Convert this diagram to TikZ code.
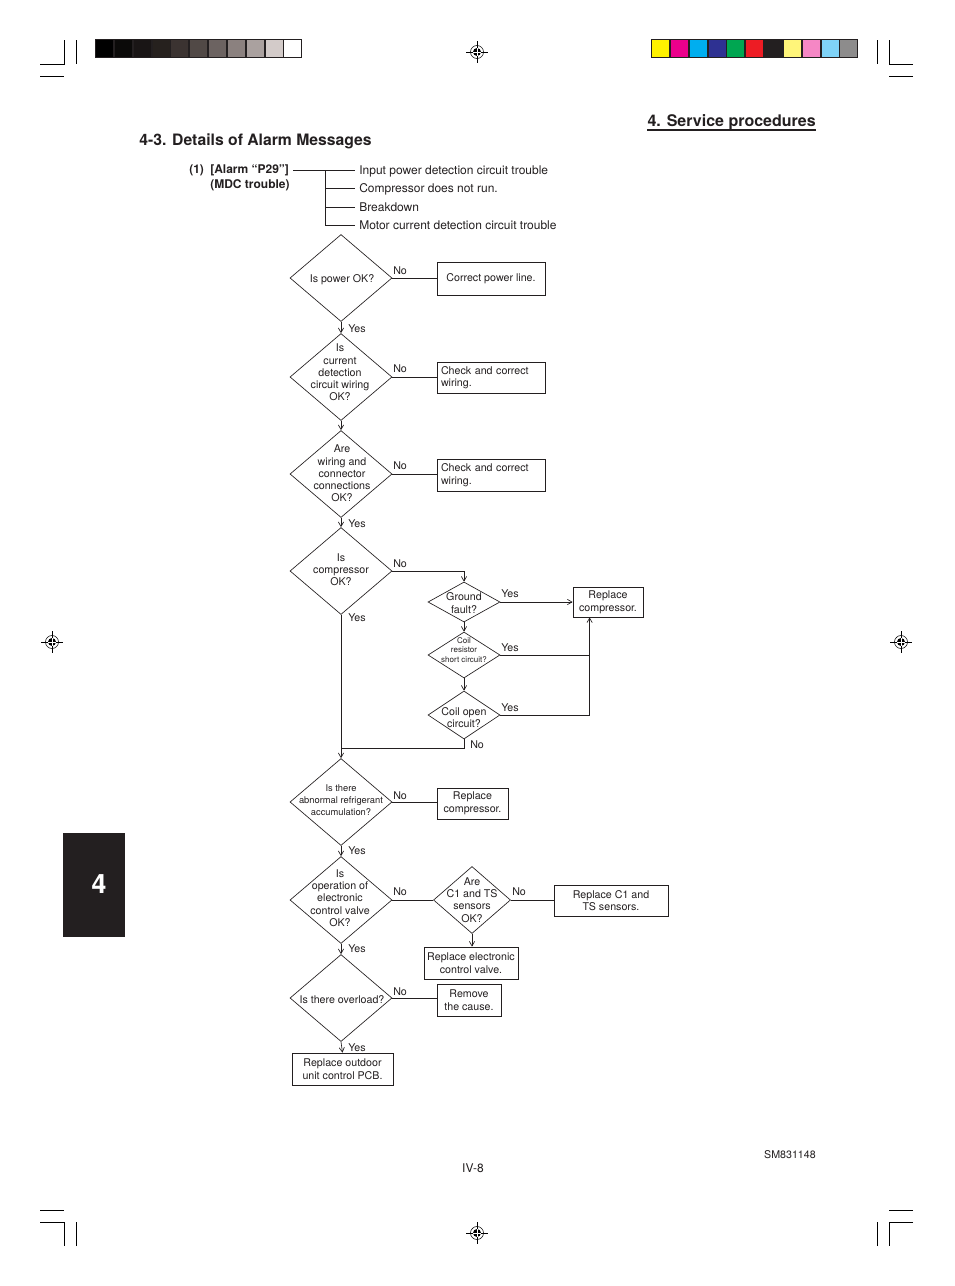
\documentclass[tikz,border=0pt]{standalone}
\usepackage{fontspec}
\setmainfont{TeX Gyre Heros}
\usetikzlibrary{arrows,shapes.geometric}

\definecolor{ink}{HTML}{231F20}
\definecolor{g0}{HTML}{000000}
\definecolor{g1}{HTML}{0B0A09}
\definecolor{g2}{HTML}{191515}
\definecolor{g3}{HTML}{26211E}
\definecolor{g4}{HTML}{3B3331}
\definecolor{g5}{HTML}{514946}
\definecolor{g6}{HTML}{6C6361}
\definecolor{g7}{HTML}{8B817F}
\definecolor{g8}{HTML}{AAA19F}
\definecolor{g9}{HTML}{D3CBC9}
\definecolor{g10}{HTML}{FFFFFF}
\definecolor{c0}{HTML}{FFF200}
\definecolor{c1}{HTML}{EC008C}
\definecolor{c2}{HTML}{00AEEF}
\definecolor{c3}{HTML}{2E3192}
\definecolor{c4}{HTML}{00A651}
\definecolor{c5}{HTML}{ED1C24}
\definecolor{c6}{HTML}{231F20}
\definecolor{c7}{HTML}{FFF57A}
\definecolor{c8}{HTML}{F587C5}
\definecolor{c9}{HTML}{7FD3F7}
\definecolor{c10}{HTML}{8D8C8C}

\begin{document}
\begin{tikzpicture}[x=0.75pt,y=-0.75pt,>=angle 60,
  flow/.style={draw=ink,line width=0.5pt},
  crop/.style={draw=black,line width=0.7pt},
  main node/.style={diamond,draw=ink,line width=0.5pt,inner sep=0pt,
    minimum width=76.5pt,minimum height=65.25pt},
  small node/.style={main node,minimum width=54pt},
  box node/.style={rectangle,draw=ink,line width=0.6pt,inner sep=0pt,text=ink,
    align=center,font=\fontsize{8}{9.4}\selectfont},
  left box/.style={box node,align=left,text width=75pt,inner xsep=3pt,
    minimum height=23.25pt},
  q text/.style={align=center,inner sep=0pt,text=ink,font=\fontsize{8}{9.2}\selectfont},
  yn/.style={anchor=west,inner sep=0pt,text=ink,text height=5.8pt,text depth=0pt,
    yshift=-0.75pt,font=\fontsize{8}{9}\selectfont},
  sym/.style={anchor=west,inner xsep=3pt,inner ysep=0pt,text=ink,text height=6.5pt,
    text depth=0pt,font=\fontsize{9}{11}\selectfont}]

  \useasboundingbox (0,0) rectangle (954,1286);

  % crop marks
  \foreach \ox/\sx in {0/1,953/-1}
    \foreach \oy/\sy in {0/1,1286/-1} {
      \draw[crop] ({\ox+\sx*40},{\oy+\sy*64}) -- ({\ox+\sx*64},{\oy+\sy*64})
        -- ({\ox+\sx*64},{\oy+\sy*40});
      \draw[crop] ({\ox+\sx*76},{\oy+\sy*40}) -- ({\ox+\sx*76},{\oy+\sy*64});
      \draw[crop] ({\ox+\sx*40},{\oy+\sy*76}) -- ({\ox+\sx*64},{\oy+\sy*76});
    }

  % registration marks
  \foreach \p in {(477,52),(52,642),(901,642),(477,1233)} {
    \draw[black,line width=0.4pt] \p ++(-11,0) -- ++(22,0) \p ++(0,-11) -- ++(0,22);
    \draw[black,line width=0.4pt] \p circle[radius=6.5];
    \fill[black] \p circle[radius=4];
    \draw[white,line width=0.45pt] \p ++(-4,0) -- ++(8,0) \p ++(0,-4) -- ++(0,8);
  }

  % colour bars
  \fill[ink] (95,39) rectangle (302,58);
  \foreach \i in {0,...,10}
    \fill[g\i] ({96.2+\i*18.818},40.3) rectangle ({94.4+(\i+1)*18.818},56.7);
  \fill[ink] (651,39) rectangle (858,58);
  \foreach \i in {0,...,10}
    \fill[c\i] ({652.2+\i*18.818},40.3) rectangle ({650.4+(\i+1)*18.818},56.7);

  % chapter tab
  \fill[ink] (63,833) rectangle (125,937);
  \node[text=white,inner sep=0pt,font=\fontsize{20}{24}\selectfont\bfseries] (tab) at (99,884) {4};

  % headings
  \node[anchor=base east,inner sep=0pt,text=ink,font=\fontsize{12}{14}\selectfont\bfseries]
    (svc) at (816,126) {4. Service procedures};
  \draw[ink,line width=0.9pt] ([yshift=-3pt]svc.base west) -- ([yshift=-3pt]svc.base east);
  \node[anchor=base west,inner sep=0pt,text=ink,font=\fontsize{11.8}{14}\selectfont\bfseries]
    (title) at (139,145) {4-3. Details of Alarm Messages};

  % alarm and symptoms
  \node[sym,font=\fontsize{9}{11}\selectfont\bfseries] (num) at (185,169) {(1)};
  \node[sym,font=\fontsize{9}{11}\selectfont\bfseries] (alarm) at (206,169) {[Alarm “P29”]};
  \node[sym,font=\fontsize{9}{11}\selectfont\bfseries] (mdc) at (206,184) {(MDC trouble)};
  \node[sym] (input) at (355,170) {Input power detection circuit trouble};
  \node[sym] (norun) at (355,188) {Compressor does not run.};
  \node[sym] (brk) at (355,207) {Breakdown};
  \node[sym] (motor) at (355,225) {Motor current detection circuit trouble};
  \coordinate (fork) at (325,170);
  \draw[flow] (alarm.east |- input.west) -- (input.west);
  \draw[flow] (fork) |- (motor.west);
  \draw[flow] (fork |- norun.west) -- (norun.west);
  \draw[flow] (fork |- brk.west) -- (brk.west);

  % decisions
  \node[main node] (power) at (341,278) {};
  \node[q text] (power t) at (342,279.5) {Is power OK?};
  \node[main node] (detect) at (341,377) {};
  \node[q text] (detect t) at (340,372.5) {Is\\current\\detection\\circuit wiring\\OK?};
  \node[main node] (conn) at (341,474) {};
  \node[q text] (conn t) at (342,473.5) {Are\\wiring and\\connector\\connections\\OK?};
  \node[main node] (comp) at (341,571) {};
  \node[q text] (comp t) at (341,569.5) {Is\\compressor\\OK?};
  \node[small node,minimum height=30pt] (ground) at (464,602) {};
  \node[q text,font=\fontsize{8}{9.75}\selectfont] (ground t) at (464,603) {Ground\\fault?};
  \node[small node,minimum height=34.5pt] (short) at (464,655) {};
  \node[q text,font=\fontsize{6}{7.1}\selectfont] (short t) at (464,650) {Coil\\resistor\\short circuit?};
  \node[small node,minimum height=36pt] (open) at (464,715) {};
  \node[q text] (open t) at (464,717.5) {Coil open\\circuit?};
  \node[main node] (refrig) at (341,802) {};
  \node[q text,font=\fontsize{7}{9}\selectfont] (refrig t) at (341,800.5) {Is there\\abnormal refrigerant\\accumulation?};
  \node[main node] (valve) at (341,900) {};
  \node[q text] (valve t) at (340,898) {Is\\operation of\\electronic\\control valve\\OK?};
  \node[small node,minimum width=57.75pt,minimum height=50.25pt] (sensors) at (472,900) {};
  \node[q text] (sensors t) at (472,900) {Are\\C1 and TS\\sensors\\OK?};
  \node[main node] (load) at (341,998) {};
  \node[q text] (load t) at (342,999.5) {Is there overload?};

  % actions
  \node[box node,minimum width=81pt,minimum height=24.75pt] (powerfix) at (491,278.5) {Correct power line.};
  \node[left box] (detectfix) at (491,377.5) {Check and correct\\wiring.};
  \node[left box,minimum height=24pt] (connfix) at (491,475) {Check and correct\\wiring.};
  \node[box node,minimum width=52.5pt,minimum height=22.5pt] (compfix) at (608,602) {Replace\\compressor.};
  \node[box node,minimum width=53.25pt,minimum height=23.25pt] (refrigfix) at (472.5,803.5) {Replace\\compressor.};
  \node[box node,minimum width=85.5pt,minimum height=23.25pt] (sensorfix) at (611,900.5) {Replace C1 and\\TS sensors.};
  \node[box node,minimum width=70.5pt,minimum height=24pt] (valvefix) at (471,963) {Replace electronic\\control valve.};
  \node[box node,minimum width=48pt,minimum height=24pt] (loadfix) at (469,1000) {Remove\\the cause.};
  \node[box node,minimum width=75.75pt,minimum height=24pt] (pcb) at (342.5,1069) {Replace outdoor\\unit control PCB.};

  % yes / no
  \node[yn] (power no) at (393,270) {No};
  \node[yn] (power yes) at (348,328) {Yes};
  \node[yn] (detect no) at (393,368) {No};
  \node[yn] (conn no) at (393,465) {No};
  \node[yn] (conn yes) at (348,523) {Yes};
  \node[yn] (comp no) at (393,563) {No};
  \node[yn] (comp yes) at (348,617) {Yes};
  \node[yn] (ground yes) at (501,593) {Yes};
  \node[yn] (short yes) at (501,647) {Yes};
  \node[yn] (open yes) at (501,707) {Yes};
  \node[yn] (open no) at (470,744) {No};
  \node[yn] (refrig no) at (393,795) {No};
  \node[yn] (refrig yes) at (348,850) {Yes};
  \node[yn] (valve no) at (393,891) {No};
  \node[yn] (valve yes) at (348,948) {Yes};
  \node[yn] (sensors no) at (512,891) {No};
  \node[yn] (load no) at (393,991) {No};
  \node[yn] (load yes) at (348,1047) {Yes};

  % connectors
  \coordinate (compin) at ([xshift=12.75pt]compfix.south west);
  \coordinate (merge) at (341,748);
  \draw[flow] (power.east) -- (power.east -| powerfix.west);
  \draw[flow,->] (power.south) -- (detect.north);
  \draw[flow] (detect.east) -- (detect.east -| detectfix.west);
  \draw[flow,->] (detect.south) -- (conn.north);
  \draw[flow] (conn.east) -- (conn.east -| connfix.west);
  \draw[flow,->] (conn.south) -- (comp.north);
  \draw[flow,->] (comp.east) -| (ground.north);
  \draw[flow,->] (ground.east) -- (ground.east -| compfix.west);
  \draw[flow,->] (ground.south) -- (short.north);
  \draw[flow,->] (short.south) -- (open.north);
  \draw[flow] (short.east) -- (short.east -| compin);
  \draw[flow,->] (open.east) -| (compin);
  \draw[flow] (open.south) |- (merge);
  \draw[flow,->] (comp.south) -- (refrig.north);
  \draw[flow] (refrig.east) -- (refrig.east -| refrigfix.west);
  \draw[flow,->] (refrig.south) -- (valve.north);
  \draw[flow] (valve.east) -- (sensors.west);
  \draw[flow] (sensors.east) -- (sensors.east -| sensorfix.west);
  \draw[flow,->] (sensors.south) -- (sensors.south |- valvefix.north);
  \draw[flow,->] (valve.south) -- (load.north);
  \draw[flow] (load.east) -- (load.east -| loadfix.west);
  \draw[flow,->] (load.south) -- (pcb.north);

  % footer
  \node[anchor=base,inner sep=0pt,text=ink,font=\fontsize{9}{11}\selectfont] (page) at (473,1172) {IV-8};
  \node[anchor=base east,inner sep=0pt,text=ink,font=\fontsize{8}{10}\selectfont] (code) at (816,1158) {SM831148};
\end{tikzpicture}
\end{document}
